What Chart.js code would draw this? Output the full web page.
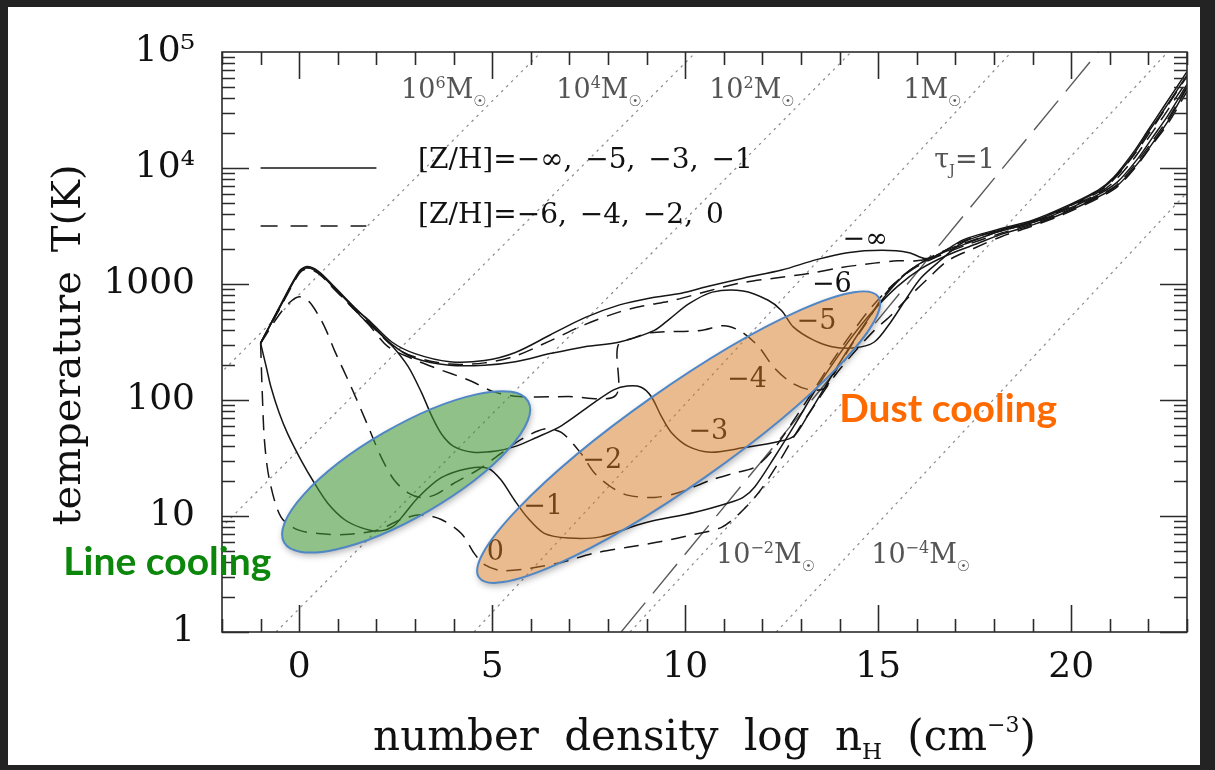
<!DOCTYPE html>
<html>
<head>
<meta charset="utf-8">
<script src="https://cdn.jsdelivr.net/npm/chart.js@4.4.1/dist/chart.umd.min.js"></script>
<style>
  html, body { margin: 0; padding: 0; background: #232323; }
  #wrap { width: 1215px; height: 770px; }
</style>
</head>
<body>
<div id="wrap"><canvas id="tn" width="1215" height="770"></canvas></div>
<script>
// Temperature evolution of collapsing clouds for several metallicities.
// x = log n_H (cm^-3), y = T (K); each track stored as log T.

const xTicks = [0, 5, 10, 15, 20];
const yTicks = [1, 10, 100, 1000, 1e4, 1e5];
const yTickText = ['1', '10', '100', '1000', '10\u2074', '10\u2075'];

// [Z/H] = -inf (solid)
const zInfX = [-1, -0.5, 0, 0.2, 0.5, 0.9, 1.4, 1.8, 2.4, 3.0, 3.9, 4.8, 5.6, 6.5, 7.4, 8.3, 9.1, 9.9, 10.6, 11.5, 12.5, 13.4, 14.2, 15.1, 15.8, 16.2, 16.5, 17.2, 18.1, 19.0, 19.8, 20.7, 21.1, 21.6, 22.0, 22.4, 23.0];
const zInfLogT = [2.49, 2.8, 3.1, 3.14, 3.1, 2.97, 2.8, 2.69, 2.5, 2.4, 2.33, 2.34, 2.41, 2.56, 2.71, 2.82, 2.88, 2.92, 2.98, 3.05, 3.12, 3.21, 3.27, 3.29, 3.27, 3.22, 3.24, 3.38, 3.47, 3.55, 3.66, 3.81, 3.92, 4.13, 4.33, 4.53, 4.83];

// [Z/H] = -6 (dashed)
const m6X = [-1, -0.5, 0, 0.2, 0.5, 0.9, 1.4, 1.8, 2.4, 3.0, 3.9, 4.8, 5.6, 6.5, 7.4, 8.3, 8.9, 9.7, 10.6, 11.45, 12.3, 13.2, 14.0, 14.9, 15.5, 16.0, 16.4, 17.2, 18.1, 19.0, 19.8, 20.7, 21.1, 21.6, 22.0, 22.4, 23.0];
const m6LogT = [2.49, 2.79, 3.09, 3.13, 3.09, 2.96, 2.79, 2.67, 2.47, 2.37, 2.31, 2.32, 2.38, 2.51, 2.65, 2.76, 2.81, 2.86, 2.94, 3.01, 3.05, 3.09, 3.14, 3.18, 3.2, 3.2, 3.23, 3.37, 3.46, 3.54, 3.65, 3.79, 3.9, 4.1, 4.29, 4.49, 4.79];

// [Z/H] = -5 (solid)
const m5X = [-1, -0.5, 0, 0.2, 0.5, 0.9, 1.4, 1.8, 2.4, 3.0, 3.9, 4.8, 5.6, 6.5, 7.4, 8.3, 9.2, 9.6, 10.1, 10.7, 11.5, 12.15, 12.5, 12.8, 13.3, 13.8, 14.4, 14.9, 15.3, 15.7, 16.1, 16.6, 17.2, 18.1, 19.0, 19.8, 20.7, 21.1, 21.6, 22.0, 22.4, 23.0];
const m5LogT = [2.49, 2.81, 3.11, 3.15, 3.11, 2.98, 2.81, 2.68, 2.48, 2.36, 2.3, 2.3, 2.33, 2.4, 2.46, 2.5, 2.6, 2.7, 2.83, 2.93, 2.94, 2.86, 2.77, 2.63, 2.52, 2.46, 2.45, 2.5, 2.66, 2.86, 3.05, 3.2, 3.36, 3.46, 3.54, 3.65, 3.8, 3.91, 4.11, 4.31, 4.5, 4.8];

// [Z/H] = -4 (dashed)
const m4X = [-1, -0.5, 0, 0.2, 0.5, 0.9, 1.4, 1.8, 2.3, 2.9, 3.5, 4.4, 5.05, 5.7, 6.97, 8.2, 8.26, 8.7, 9.1, 10.4, 11.0, 11.45, 11.9, 12.3, 12.75, 13.2, 13.6, 13.95, 14.3, 14.7, 15.1, 15.6, 16.1, 16.6, 17.3, 18.1, 19.0, 19.8, 20.7, 21.1, 21.6, 22.0, 22.4, 23.0];
const m4LogT = [2.49, 2.8, 3.1, 3.14, 3.1, 2.96, 2.79, 2.65, 2.46, 2.36, 2.28, 2.17, 2.07, 2.03, 2.03, 2.04, 2.47, 2.54, 2.58, 2.6, 2.64, 2.59, 2.46, 2.28, 2.15, 2.09, 2.1, 2.28, 2.47, 2.67, 2.88, 3.06, 3.18, 3.27, 3.36, 3.45, 3.53, 3.64, 3.78, 3.88, 4.07, 4.26, 4.45, 4.75];

// [Z/H] = -3 (solid)
const m3X = [-1, -0.5, 0, 0.2, 0.5, 0.9, 1.3, 1.6, 2.0, 2.4, 2.82, 3.16, 3.45, 3.7, 4.0, 4.5, 5.1, 5.6, 6.1, 6.8, 7.65, 8.16, 8.5, 8.86, 9.12, 9.38, 9.64, 10.08, 10.67, 11.53, 12.4, 12.82, 13.2, 13.6, 14.0, 14.5, 15.0, 15.5, 16.0, 16.6, 17.3, 18.1, 19.0, 19.8, 20.7, 21.2, 21.7, 22.1, 22.5, 23.0];
const m3LogT = [2.49, 2.8, 3.1, 3.14, 3.1, 2.97, 2.84, 2.72, 2.6, 2.47, 2.29, 2.07, 1.85, 1.7, 1.6, 1.55, 1.56, 1.6, 1.67, 1.78, 1.98, 2.09, 2.12, 2.11, 2.03, 1.86, 1.72, 1.6, 1.55, 1.59, 1.64, 1.69, 1.88, 2.1, 2.32, 2.58, 2.82, 3.02, 3.16, 3.26, 3.35, 3.45, 3.53, 3.63, 3.77, 3.88, 4.07, 4.26, 4.45, 4.72];

// [Z/H] = -2 (dashed)
const m2X = [-1, -0.55, -0.25, 0, 0.25, 0.5, 0.7, 0.91, 1.35, 1.79, 2.12, 2.46, 2.82, 3.16, 3.5, 4.0, 4.64, 5.23, 5.75, 6.35, 6.79, 7.3, 7.65, 8.08, 8.5, 9.2, 9.82, 10.67, 11.27, 11.8, 12.3, 12.8, 13.3, 13.8, 14.3, 14.8, 15.4, 16.0, 16.7, 17.4, 18.2, 19.0, 19.8, 20.7, 21.2, 21.7, 22.1, 22.5, 23.0];
const m2LogT = [2.49, 2.72, 2.84, 2.89, 2.85, 2.73, 2.6, 2.43, 2.11, 1.77, 1.51, 1.31, 1.2, 1.16, 1.18, 1.28, 1.4, 1.54, 1.66, 1.75, 1.72, 1.54, 1.37, 1.25, 1.18, 1.16, 1.2, 1.31, 1.37, 1.42, 1.58, 1.82, 2.07, 2.33, 2.57, 2.79, 3.0, 3.15, 3.26, 3.35, 3.44, 3.52, 3.62, 3.76, 3.86, 4.05, 4.23, 4.42, 4.7];

// [Z/H] = -1 (solid)
const m1X = [-1, -0.85, -0.73, -0.52, -0.3, 0.05, 0.4, 0.74, 1.17, 1.6, 2.04, 2.43, 2.73, 3.08, 3.68, 4.38, 4.9, 5.23, 5.57, 5.93, 6.35, 6.97, 7.8, 8.94, 10.23, 11.1, 11.5, 11.8, 12.3, 12.9, 13.4, 13.9, 14.4, 14.9, 15.5, 16.1, 16.8, 17.5, 18.2, 19.0, 19.8, 20.7, 21.2, 21.7, 22.1, 22.5, 23.0];
const m1LogT = [2.49, 2.28, 2.11, 1.89, 1.71, 1.48, 1.28, 1.11, 0.97, 0.9, 0.87, 0.91, 1.02, 1.16, 1.33, 1.41, 1.41, 1.31, 1.14, 0.98, 0.85, 0.81, 0.82, 0.94, 1.03, 1.11, 1.16, 1.25, 1.5, 1.82, 2.1, 2.35, 2.58, 2.78, 2.98, 3.13, 3.25, 3.34, 3.43, 3.51, 3.61, 3.75, 3.85, 4.03, 4.21, 4.4, 4.69];

// [Z/H] = 0 (dashed)
const z0X = [-1, -0.96, -0.9, -0.77, -0.47, -0.03, 0.49, 1.17, 2.04, 2.64, 3.16, 3.68, 4.2, 4.53, 4.8, 5.23, 6.0, 6.79, 7.65, 8.5, 9.38, 10.2, 10.93, 11.4, 11.9, 12.4, 12.9, 13.4, 13.9, 14.4, 14.9, 15.3, 15.8, 16.3, 16.8, 17.5, 18.2, 19.0, 19.8, 20.7, 21.2, 21.7, 22.1, 22.5, 23.0];
const z0LogT = [2.49, 2.09, 1.65, 1.31, 0.99, 0.88, 0.85, 0.84, 0.88, 0.97, 1.01, 0.97, 0.85, 0.68, 0.58, 0.53, 0.55, 0.6, 0.68, 0.73, 0.78, 0.84, 0.9, 1.02, 1.2, 1.45, 1.73, 1.98, 2.22, 2.42, 2.6, 2.72, 2.89, 3.05, 3.2, 3.31, 3.41, 3.5, 3.6, 3.74, 3.84, 4.02, 4.2, 4.38, 4.66];

// Jeans-mass lines (1e6 ... 1e-4 Msun): x where T = 1 K and where T = 1e5 K
const jeansXLow = [-8.73, -4.72, -0.6, 4.53, 8.57, 12.36];
const jeansXHigh = [6.27, 10.28, 14.3, 18.45, 22.5, 26.4];

// tau_J = 1 line
const tauX = [8.34, 20.7];
const tauT = [1, 1e5];

const SERIF = '"DejaVu Serif", serif';
const SANS = '"DejaVu Sans", sans-serif';

const tracks = [
  { x: zInfX, logT: zInfLogT, dash: false },
  { x: m6X, logT: m6LogT, dash: true },
  { x: m5X, logT: m5LogT, dash: false },
  { x: m4X, logT: m4LogT, dash: true },
  { x: m3X, logT: m3LogT, dash: false },
  { x: m2X, logT: m2LogT, dash: true },
  { x: m1X, logT: m1LogT, dash: false },
  { x: z0X, logT: z0LogT, dash: true }
];

const datasets = [];
tracks.forEach(t => {
  datasets.push({
    data: t.x.map((v, i) => ({ x: v, y: Math.pow(10, t.logT[i]) })),
    showLine: true,
    borderColor: '#161616',
    borderWidth: 1.5,
    borderDash: t.dash ? [15, 9] : [],
    pointRadius: 0,
    tension: 0.3
  });
});
jeansXLow.forEach((v, i) => {
  datasets.push({
    data: [{ x: v, y: 1 }, { x: jeansXHigh[i], y: 1e5 }],
    showLine: true,
    borderColor: '#8a8a8a',
    borderWidth: 1.2,
    borderDash: [2.5, 4.5],
    pointRadius: 0,
    tension: 0
  });
});
datasets.push({
  data: [{ x: tauX[0], y: tauT[0] }, { x: tauX[1], y: tauT[1] }],
  showLine: true,
  borderColor: '#5a5a5a',
  borderWidth: 1.4,
  borderDash: [38, 12],
  pointRadius: 0,
  tension: 0
});

// text drawn in pieces so sub/superscripts can be placed: [text, size, dy, family]
function drawRich(ctx, parts, x, y, align) {
  let w = 0;
  parts.forEach(p => { ctx.font = p[1] + 'px ' + (p[3] || SERIF); w += ctx.measureText(p[0]).width; });
  let cx = align === 'center' ? x - w / 2 : x;
  parts.forEach(p => {
    ctx.font = p[1] + 'px ' + (p[3] || SERIF);
    ctx.fillText(p[0], cx, y + p[2]);
    cx += ctx.measureText(p[0]).width;
  });
}

const sun = ['\u2609', 15, 8, SANS];
const massNotes = [
  { x: 2.64, T: 39800, parts: [['10', 27, 0], ['6', 16, -10], ['M', 27, 0], sun] },
  { x: 6.66, T: 39800, parts: [['10', 27, 0], ['4', 16, -10], ['M', 27, 0], sun] },
  { x: 10.62, T: 39800, parts: [['10', 27, 0], ['2', 16, -10], ['M', 27, 0], sun] },
  { x: 15.65, T: 39800, parts: [['1', 27, 0], ['M', 27, 0], sun] },
  { x: 10.8, T: 3.94, parts: [['10', 27, 0], ['\u22122', 16, -10], ['M', 27, 0], sun] },
  { x: 14.82, T: 3.94, parts: [['10', 27, 0], ['\u22124', 16, -10], ['M', 27, 0], sun] },
  { x: 16.45, T: 1e4, parts: [['\u03c4', 27, 0], ['J', 15, 7], ['=1', 27, 0]] }
];

const curveNotes = [
  ['\u2212\u221e', 14.66, 2400], ['\u22126', 13.8, 980], ['\u22125', 13.4, 470],
  ['\u22124', 11.6, 148], ['\u22123', 10.6, 53], ['\u22122', 7.85, 30],
  ['\u22121', 6.32, 12], ['0', 5.08, 4.8]
];

const blobs = [
  { a: [-0.39, 5.9], b: [5.93, 97.7], half: 45, fill: 'rgba(62,148,52,0.58)' },
  { a: [4.66, 2.95], b: [15.0, 776], half: 48, fill: 'rgba(211,119,31,0.5)' }
];

const decor = {
  id: 'decor',
  beforeDraw(chart) {
    const ctx = chart.ctx;
    ctx.save();
    ctx.fillStyle = '#232323';
    ctx.fillRect(0, 0, chart.width, chart.height);
    ctx.fillStyle = '#ffffff';
    ctx.fillRect(8, 7, 1192, 758);
    ctx.restore();
  },
  afterDatasetsDraw(chart) {
    const { ctx, chartArea: a, scales: { x, y } } = chart;
    const X = v => x.getPixelForValue(v);
    const Y = v => y.getPixelForValue(v);
    ctx.save();

    // frame with inward ticks
    ctx.strokeStyle = '#2b2b2b';
    ctx.lineWidth = 1.6;
    ctx.strokeRect(a.left, a.top, a.right - a.left, a.bottom - a.top);
    ctx.beginPath();
    for (let v = Math.ceil(x.min); v <= x.max; v++) {
      const len = v % 5 === 0 ? 27 : 13;
      const p = Math.round(X(v)) + 0.5;
      ctx.moveTo(p, a.bottom); ctx.lineTo(p, a.bottom - len);
      ctx.moveTo(p, a.top); ctx.lineTo(p, a.top + len);
    }
    for (let d = 0; d <= 4; d++) {
      for (let m = 1; m <= 9; m++) {
        const v = m * Math.pow(10, d);
        const len = m === 1 ? 27 : 13;
        const p = Math.round(Y(v)) + 0.5;
        ctx.moveTo(a.left, p); ctx.lineTo(a.left + len, p);
        ctx.moveTo(a.right, p); ctx.lineTo(a.right - len, p);
      }
    }
    ctx.stroke();

    // legend samples
    ctx.strokeStyle = '#161616';
    ctx.lineWidth = 1.5;
    ctx.beginPath();
    ctx.moveTo(X(-1), Y(1e4)); ctx.lineTo(X(2), Y(1e4));
    ctx.stroke();
    ctx.setLineDash([17, 13]);
    ctx.beginPath();
    ctx.moveTo(X(-1), Y(3162)); ctx.lineTo(X(1.74), Y(3162));
    ctx.stroke();
    ctx.setLineDash([]);

    ctx.fillStyle = '#111';
    ctx.textBaseline = 'alphabetic';
    ctx.textAlign = 'left';
    ctx.font = '28px ' + SERIF;
    ctx.wordSpacing = '4px';
    ctx.fillText('[Z/H]=\u2212\u221e, \u22125, \u22123, \u22121', X(3.08), Y(1e4));
    ctx.fillText('[Z/H]=\u22126, \u22124, \u22122, 0', X(3.08), Y(3357));
    ctx.wordSpacing = '0px';

    // Jeans mass and tau labels
    ctx.fillStyle = '#555';
    massNotes.forEach(n => drawRich(ctx, n.parts, X(n.x), Y(n.T), 'left'));

    // metallicity labels on the tracks
    ctx.fillStyle = '#111';
    ctx.textAlign = 'center';
    ctx.textBaseline = 'middle';
    ctx.font = '27px ' + SERIF;
    curveNotes.forEach(n => ctx.fillText(n[0], X(n[1]), Y(n[2])));

    // highlighted regions
    blobs.forEach(bl => {
      const x1 = X(bl.a[0]), y1 = Y(bl.a[1]), x2 = X(bl.b[0]), y2 = Y(bl.b[1]);
      const cx = (x1 + x2) / 2, cy = (y1 + y2) / 2;
      const r = Math.hypot(x2 - x1, y2 - y1) / 2;
      const ang = Math.atan2(y2 - y1, x2 - x1);
      ctx.save();
      ctx.beginPath();
      ctx.rect(0, 0, chart.width, chart.height);
      ctx.ellipse(cx, cy, r, bl.half, ang, 0, Math.PI * 2);
      ctx.clip('evenodd');
      ctx.shadowColor = 'rgba(0,0,0,0.32)';
      ctx.shadowBlur = 7;
      ctx.shadowOffsetX = 1;
      ctx.shadowOffsetY = 3;
      ctx.beginPath();
      ctx.ellipse(cx, cy, r, bl.half, ang, 0, Math.PI * 2);
      ctx.fillStyle = '#000';
      ctx.fill();
      ctx.restore();
      ctx.beginPath();
      ctx.ellipse(cx, cy, r, bl.half, ang, 0, Math.PI * 2);
      ctx.fillStyle = bl.fill;
      ctx.fill();
      ctx.strokeStyle = '#4f86c6';
      ctx.lineWidth = 2;
      ctx.stroke();
    });

    // region names
    ctx.textAlign = 'left';
    ctx.textBaseline = 'alphabetic';
    ctx.font = 'bold 39px Lato, sans-serif';
    ctx.fillStyle = '#0c870c';
    ctx.fillText('Line cooling', X(-6.11), Y(3.1));
    ctx.fillStyle = '#ff6a00';
    ctx.fillText('Dust cooling', X(13.99), Y(65));

    // axis titles
    ctx.fillStyle = '#111';
    ctx.wordSpacing = '12px';
    drawRich(ctx, [['number density log n', 42, 0], ['H', 23, 9], [' (cm', 42, 0], ['\u22123', 22, -18], [')', 42, 0]],
      (a.left + a.right) / 2, 750, 'center');
    ctx.wordSpacing = '6px';
    ctx.translate(80, 345);
    ctx.rotate(-Math.PI / 2);
    ctx.font = '40px ' + SERIF;
    ctx.textAlign = 'center';
    ctx.fillText('temperature T(K)', 0, 0);
    ctx.wordSpacing = '0px';
    ctx.restore();
  }
};

new Chart(document.getElementById('tn'), {
  type: 'scatter',
  data: { datasets: datasets },
  options: {
    responsive: false,
    animation: false,
    devicePixelRatio: 1,
    layout: { padding: { top: 52, right: 28, left: 0, bottom: 0 } },
    plugins: { legend: { display: false }, tooltip: { enabled: false } },
    scales: {
      x: {
        type: 'linear', min: -2, max: 23,
        grid: { display: false, drawTicks: false },
        border: { display: false },
        afterBuildTicks: s => { s.ticks = xTicks.map(v => ({ value: v })); },
        afterFit: s => { s.height = 138; },
        ticks: { font: { family: SERIF, size: 36 }, color: '#111', padding: 14, maxRotation: 0, autoSkip: false }
      },
      y: {
        type: 'logarithmic', min: 1, max: 1e5,
        grid: { display: false, drawTicks: false },
        border: { display: false },
        afterBuildTicks: s => { s.ticks = yTicks.map(v => ({ value: v })); },
        afterFit: s => { s.width = 222; },
        ticks: {
          font: { family: SERIF, size: 36 }, color: '#111', padding: 27, autoSkip: false,
          callback: v => yTickText[yTicks.indexOf(v)]
        }
      }
    }
  },
  plugins: [decor]
});
</script>
</body>
</html>
